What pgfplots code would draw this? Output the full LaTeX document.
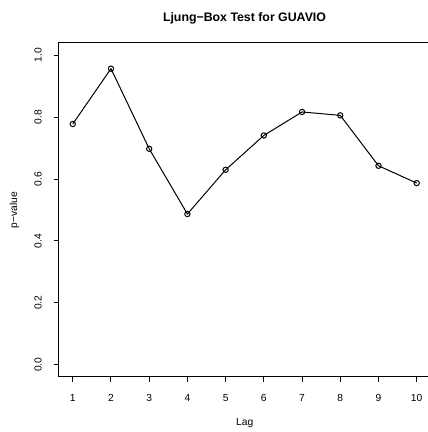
\documentclass[border=0pt]{standalone}
\usepackage{fontspec}
\setmainfont{Liberation Sans}
\usepackage{pgfplots}
\pgfplotsset{compat=1.18}

\begin{document}
\begin{tikzpicture}[x=0.75pt,y=0.75pt]
  \begin{axis}[
    at={(0,0)}, anchor=south west,
    scale only axis,
    width=278.6pt, height=250.5pt,
    xmin=0.64, xmax=10.36,
    ymin=-0.04, ymax=1.04,
    xtick={1,...,10},
    ytick={0,0.2,...,1.0},
    yticklabel style={rotate=90, anchor=south, /pgf/number format/fixed, /pgf/number format/fixed zerofill, /pgf/number format/precision=1},
    tick align=outside,
    xtick pos=left, ytick pos=left,
    major tick length=3.75pt,
    xticklabel shift=5.7pt, yticklabel shift=5.7pt,
    tick style={black, line width=0.75pt},
    axis line style={line width=0.75pt},
    ticklabel style={font=\fontsize{7.7}{9}\selectfont},
    /pgf/number format/assume math mode=true,
    clip=false,
  ]
    \addplot[black, line width=0.75pt, mark=o, mark size=2pt, mark options={line width=0.75pt}] coordinates {
      (1, 0.778)
      (2, 0.957)
      (3, 0.698)
      (4, 0.487)
      (5, 0.630)
      (6, 0.741)
      (7, 0.817)
      (8, 0.806)
      (9, 0.643)
      (10, 0.587)
    };
  \end{axis}
  \node[font=\bfseries\fontsize{9.25}{11}\selectfont] at (185.5,358.7) {Ljung−Box Test for GUAVIO};
  \node[font=\fontsize{7.7}{9}\selectfont] at (185.75,-45.7) {Lag};
  \node[font=\fontsize{7.7}{9}\selectfont, rotate=90] at (-44.5,167) {p−value};
  \pgfresetboundingbox
  \path[use as bounding box] (-59,-55) rectangle (369,377);
\end{tikzpicture}
\end{document}
